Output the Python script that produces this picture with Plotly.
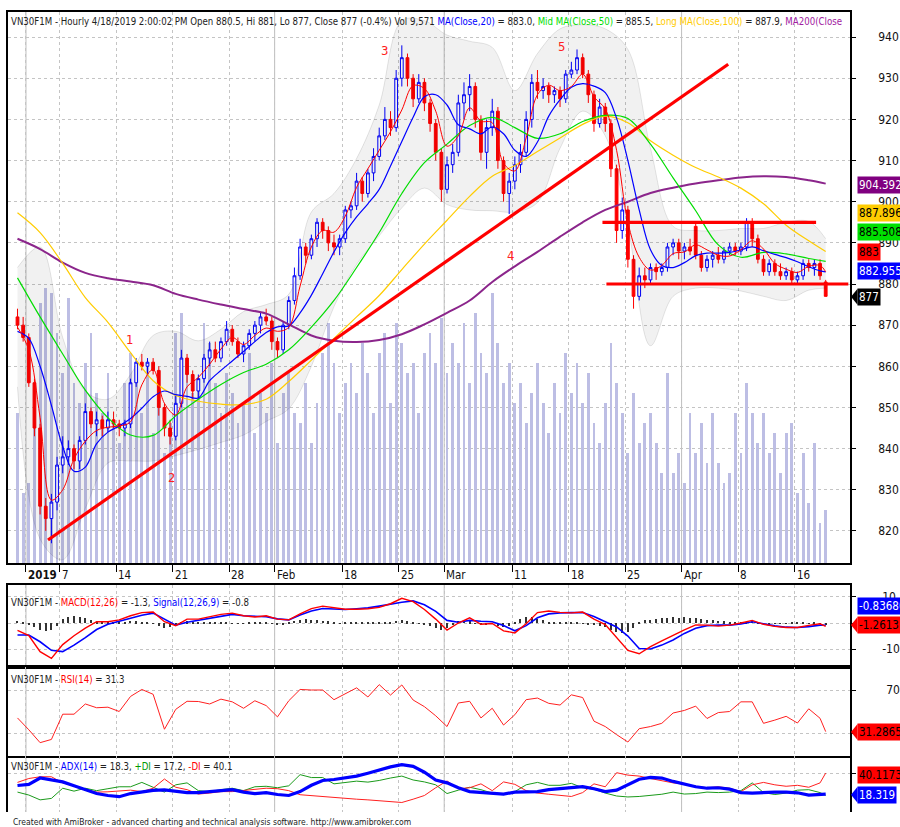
import plotly.graph_objects as go

# ---------------- DATA ----------------
# half-day candles, bar index 0..143 (Dec 31 2018 .. Apr 18 2019)
opens = [872, 870, 867, 856, 845, 826, 823, 827, 836, 838,
         840, 837, 842, 849, 846, 847, 845, 847, 846, 845,
         846, 856, 861, 860, 861, 859, 850, 845, 843, 851,
         862, 858, 854, 857, 862, 864, 862, 866, 869, 866,
         863, 865, 868, 870, 872, 871, 866, 864, 870, 876,
         882, 889, 887, 891, 895, 893, 890, 889, 891, 898,
         899, 905, 902, 907, 911, 916, 920, 918, 930, 935,
         930, 925, 929, 924, 919, 912, 903, 909, 912, 924,
         926, 928, 920, 912, 918, 922, 910, 902, 905, 909,
         912, 920, 929, 927, 928, 926, 927, 925, 931, 932,
         935, 931, 926, 919, 923, 919, 908, 893, 898, 886,
         877, 882, 881, 884, 883, 884, 889, 890, 888, 889,
         894, 887, 884, 886, 887, 886, 888, 889, 888, 889,
         895, 891, 886, 883, 885, 883, 882, 883, 881, 882,
         885, 884, 885, 880.5]
highs = [874, 872, 868, 857, 846, 828, 829, 838, 843, 842,
         841, 843, 851, 850, 849, 848, 849, 849, 847, 847,
         857, 862, 863, 862, 862, 860, 851, 847, 853, 864,
         863, 859, 858, 863, 866, 866, 867, 871, 870, 867,
         866, 869, 871, 873, 874, 872, 867, 871, 877, 884,
         891, 890, 892, 896, 896, 894, 892, 892, 899, 900,
         907, 906, 908, 913, 918, 923, 922, 932, 938, 936,
         931, 931, 930, 925, 920, 913, 911, 914, 926, 929,
         931, 929, 921, 920, 925, 923, 911, 907, 911, 914,
         922, 931, 932, 930, 929, 928, 928, 932, 934, 937,
         936, 932, 927, 925, 924, 920, 909, 901, 899, 887,
         884, 884, 885, 885, 885, 890, 891, 891, 890, 891,
         895, 888, 887, 888, 889, 889, 890, 890, 890, 896,
         896, 892, 887, 886, 886, 885, 884, 884, 883, 886,
         886, 886, 886, 881]
lows = [869, 866, 855, 843, 824, 820, 817, 825, 834, 836,
        835, 835, 841, 845, 843, 843, 844, 845, 843, 843,
        845, 855, 859, 858, 858, 848, 843, 841, 842, 850,
        856, 852, 852, 856, 860, 861, 861, 865, 865, 862,
        861, 864, 866, 868, 870, 864, 862, 863, 869, 875,
        881, 885, 886, 889, 891, 888, 887, 887, 890, 896,
        898, 900, 901, 905, 910, 915, 916, 917, 928, 928,
        923, 924, 922, 917, 910, 900, 902, 907, 911, 920,
        922, 918, 910, 908, 916, 908, 900, 897, 903, 907,
        911, 918, 925, 925, 924, 924, 923, 924, 930, 931,
        930, 924, 917, 918, 917, 906, 890, 891, 884, 874,
        876, 879, 880, 881, 882, 883, 887, 886, 886, 887,
        886, 883, 883, 884, 885, 885, 887, 887, 887, 888,
        889, 885, 882, 882, 882, 881, 881, 880, 880, 881,
        883, 882, 881, 877]
closes = [870, 867, 856, 845, 826, 823, 827, 836, 838, 840,
          837, 842, 849, 846, 847, 845, 847, 846, 845, 846,
          856, 861, 860, 861, 859, 850, 845, 843, 851, 862,
          858, 854, 857, 862, 864, 862, 866, 869, 866, 863,
          865, 868, 870, 872, 871, 866, 864, 870, 876, 882,
          889, 887, 891, 895, 893, 890, 889, 891, 898, 899,
          905, 902, 907, 911, 916, 920, 918, 930, 935, 930,
          925, 929, 924, 919, 912, 903, 909, 912, 924, 926,
          928, 920, 912, 918, 922, 910, 902, 905, 909, 912,
          920, 929, 927, 928, 926, 927, 925, 931, 932, 935,
          931, 926, 919, 923, 919, 908, 893, 898, 886, 877,
          882, 881, 884, 883, 884, 889, 890, 888, 889, 888,
          887, 884, 886, 887, 886, 888, 889, 888, 889, 895,
          891, 886, 883, 885, 883, 882, 883, 881, 882, 885,
          884, 885, 882, 877]
# volume, thousands of contracts
volume_k = [27.0, 12.6, 14.4, 27.9, 46.8, 49.5, 48.6, 41.4, 34.2, 47.7,
            32.4, 28.8, 36.0, 41.4, 30.6, 27.0, 34.2, 25.2, 21.6, 32.4,
            37.8, 34.2, 27.0, 36.0, 23.4, 28.8, 19.8, 25.2, 41.4, 45.0,
            36.0, 30.6, 32.4, 43.2, 39.6, 32.4, 27.0, 34.2, 30.6, 25.2,
            28.8, 37.8, 23.4, 30.6, 27.0, 36.0, 21.6, 30.6, 34.2, 27.0,
            25.2, 32.4, 21.6, 28.8, 37.8, 43.2, 36.0, 27.0, 32.4, 36.0,
            30.6, 39.6, 34.2, 27.0, 37.8, 41.4, 28.8, 43.2, 39.6, 34.2,
            36.0, 27.0, 37.8, 41.4, 36.0, 44.1, 34.2, 39.6, 36.0, 43.2,
            32.4, 45.0, 37.8, 34.2, 48.6, 39.6, 32.4, 36.0, 28.8, 32.4,
            25.2, 30.6, 36.0, 28.8, 23.4, 32.4, 27.0, 37.8, 30.6, 36.0,
            28.8, 34.2, 25.2, 21.6, 28.8, 39.6, 32.4, 27.0, 19.8, 30.6,
            21.6, 25.2, 27.0, 21.6, 16.2, 34.2, 16.2, 19.8, 14.4, 27.0,
            19.8, 25.2, 18.0, 27.0, 18.0, 14.4, 16.2, 27.0, 19.8, 32.4,
            27.0, 21.6, 27.0, 19.8, 23.4, 16.2, 23.4, 25.2, 12.6, 19.8,
            10.8, 21.6, 7.2, 9.571]

# sample positions (bar index) for indicator lines
idx2 = list(range(0, 144, 2)) + [143]
idx4 = list(range(0, 144, 4)) + [143]

ma_short = [869.5, 864.0, 847.5, 827.5, 830.0, 837.5, 841.8, 844.4, 845.2, 845.5,
            846.5, 855.5, 859.2, 851.0, 848.2, 855.0, 857.3, 860.5, 864.2, 867.0,
            865.3, 867.5, 869.3, 868.5, 869.5, 879.5, 889.0, 893.0, 892.6, 896.5,
            903.5, 908.0, 912.5, 917.0, 922.3, 928.2, 927.5, 922.0, 913.5, 916.0,
            922.8, 919.6, 919.2, 909.3, 907.5, 915.5, 926.0, 928.3, 927.0, 928.0,
            931.0, 925.5, 922.5, 912.5, 895.0, 886.5, 883.4, 884.5, 887.4, 887.8,
            889.5, 888.3, 887.0, 886.8, 888.3, 890.5, 888.5, 885.0, 883.6, 882.8,
            884.3, 884.5, 883.0]
ma20 = [868.5, 866.8, 860.0, 850.5, 840.5, 834.5, 835.5, 841.2, 844.0, 845.5,
        847.3, 849.8, 852.6, 854.0, 853.1, 852.7, 852.3, 856.5, 859.0, 861.3,
        863.6, 866.0, 868.2, 869.6, 869.8, 873.0, 877.3, 882.5, 887.8, 892.5,
        896.3, 899.5, 903.0, 908.7, 914.6, 920.5, 925.5, 926.0, 923.5, 918.7,
        917.7, 916.5, 918.2, 916.5, 912.5, 911.0, 914.5, 920.8, 924.8, 927.8,
        928.7, 928.1, 926.5, 920.3, 910.0, 898.0, 888.3, 884.5, 884.0, 885.2,
        886.9, 887.5, 887.5, 887.7, 888.3, 889.0, 888.1, 887.2, 886.4, 885.4,
        884.2, 883.2, 882.955]
ma50 = [881.5, 872.0, 863.0, 854.2, 847.5, 843.3, 843.2, 848.0, 852.0, 855.6,
        858.5, 860.5, 864.0, 869.5, 876.0, 884.0, 892.5, 902.0, 909.5, 914.0,
        918.5, 920.5, 918.0, 915.4, 916.5, 919.5, 921.0, 920.2, 914.0, 905.8,
        897.8, 889.5, 886.5, 887.7, 887.3, 886.2, 885.508]
ma100 = [897.3, 892.5, 885.0, 876.7, 870.7, 863.3, 856.5, 852.9, 851.5, 850.8,
         850.7, 852.0, 856.3, 861.5, 866.8, 872.0, 877.2, 883.5, 889.7, 895.5,
         901.3, 906.2, 908.8, 912.2, 915.5, 918.8, 920.8, 919.2, 914.8, 911.3,
         908.3, 906.0, 903.3, 899.5, 894.3, 890.5, 887.896]
ma200 = [891.0, 888.5, 885.2, 882.7, 881.4, 880.6, 879.7, 877.6, 876.2, 875.0,
         873.9, 872.8, 870.2, 867.5, 866.2, 865.9, 866.4, 867.8, 870.2, 873.0,
         876.0, 880.5, 884.3, 887.8, 891.5, 895.0, 898.0, 900.0, 902.1, 903.4,
         904.4, 905.2, 905.9, 906.2, 906.0, 905.2, 904.392]
bb_upper = [884, 889, 867, 854, 852, 858, 867.5, 868.5, 866.2, 869,
            873.3, 875, 877.5, 897.5, 902, 910.5, 923.5, 944, 944, 940.5,
            939, 937.5, 927, 936, 942, 943, 942, 937, 913, 894,
            893, 893, 893.5, 893.5, 895, 895.2, 891]
bb_lower = [855, 818, 813, 825.5, 836.5, 837, 837, 838.3, 839.8, 841.5,
            843.3, 846.6, 849.7, 860, 874.5, 884.8, 891.7, 898.5, 903.3, 899.3,
            898, 897.8, 897.5, 899.8, 913, 922, 916, 894, 865, 877,
            879, 879, 878.3, 877, 876, 878.5, 879]

macd = [-2.8, -4.8, -11.0, -13.6, -8.3, -4.9, -2.0, 0.5, 0.5, 1.2,
        2.8, 4.0, 4.2, 0.5, -1.0, 1.5, 1.5, 2.3, 3.3, 3.8,
        2.8, 2.3, 2.8, 1.5, 1.2, 3.5, 5.5, 6.5, 5.8, 5.3,
        5.3, 5.5, 6.0, 7.4, 9.5, 8.2, 5.2, 1.5, -2.7, 0.0,
        2.0, -0.5, -0.2, -3.0, -3.8, -0.3, 4.0, 4.6, 4.1, 3.9,
        4.2, 1.5, -0.6, -5.6, -10.5, -11.8, -9.1, -6.9, -4.6, -2.6,
        -0.7, -0.8, -1.2, -0.8, 0.0, 1.0, -0.5, -1.3, -1.7, -1.7,
        -0.9, -0.3, -1.26131]
signal = [-4.6, -4.6, -7.2, -10.5, -11.0, -8.5, -5.6, -2.5, -0.5, 0.7,
          1.8, 3.0, 3.8, 1.5, -0.8, 0.3, 1.1, 1.8, 2.5, 3.3,
          2.8, 2.5, 2.4, 1.6, 1.2, 3.1, 4.6, 5.6, 5.4, 5.2,
          5.5, 5.8, 6.5, 7.3, 8.0, 8.5, 7.0, 4.5, 1.0, 0.3,
          1.0, 0.7, 0.5, -1.0, -3.0, -1.0, 2.0, 3.5, 3.9, 4.0,
          4.0, 2.5, 0.5, -1.5, -5.0, -9.8, -10.0, -8.5, -6.5, -4.0,
          -2.0, -1.0, -0.8, -0.8, -0.4, 0.5, -0.3, -1.1, -1.6, -1.7,
          -1.4, -0.8, -0.836809]
macd_hist = [0.8, 0.5, -0.5, -1.5, -2.5, -3.2, -2.5, -1.0, 1.5, 2.5,
             2.8, 2.5, 2.0, 1.2, 0.6, 0.3, 0.5, 0.4, 0.6, 0.5,
             0.8, 0.6, 0.4, 0.2, -0.3, -1.2, -1.8, -1.5, -0.6, 0.5,
             0.6, 0.3, 0.2, 0.4, 0.3, 0.3, 0.2, 0.3, -0.2, -0.3,
             -0.2, 0.2, 0.3, 0.2, 0.1, -0.2, -0.5, -0.4, 0.2, 0.8,
             1.2, 1.5, 1.3, 1.0, 0.8, 0.6, 0.3, -0.2, 0.1, 0.2,
             0.3, 0.2, 0.3, 0.2, 0.4, 0.3, 0.5, 0.8, 1.0, 0.6,
             0.3, -0.3, -0.8, -1.2, -1.8, -2.5, -2.0, -0.5, 0.8, 1.0,
             0.6, -0.3, -0.8, -0.5, -0.2, -1.0, -1.5, -1.2, 0.5, 1.5,
             2.2, 2.5, 1.5, 1.0, 0.5, 0.2, 0.3, 0.4, 0.3, 0.2,
             -0.2, -0.4, -0.8, -1.2, -1.5, -2.5, -3.5, -4.0, -3.5, -2.0,
             0.5, 1.0, 1.3, 1.5, 1.8, 2.0, 2.2, 2.0, 2.3, 2.0,
             1.8, 1.5, 1.2, 1.0, 0.8, 0.6, 0.3, 0.2, 0.1, 0.5,
             0.8, 0.3, -0.2, -0.3, -0.2, -0.1, -0.2, 0.1, 0.2, 0.1,
             -0.1, 0.2, -0.2, -0.4]

rsi = [44, 33, 21, 24, 47.5, 47.5, 57, 53.5, 54, 50,
       64, 70.5, 66, 33.5, 52, 59.5, 59.3, 57, 61.5, 59,
       53, 60, 55.5, 45, 60, 70.5, 70, 70, 61, 66.5,
       72, 63.5, 75, 65.3, 74.7, 60.7, 54.5, 46, 36, 57.9,
       59.5, 44, 53, 37.4, 47, 61, 62.5, 57.6, 56, 65.5,
       63, 41, 36, 28.5, 21.6, 34, 36, 39, 48.6, 51,
       55, 43.5, 49, 50, 59, 59, 39, 42, 45.5, 39.3,
       52.5, 43.7, 31.2865]

adx = [27.3, 28.5, 35, 33, 31, 27, 23, 19, 17, 15.8,
       19, 21, 22.2, 22.8, 21.5, 20, 20, 21, 22.2, 23,
       20.5, 19, 20, 18, 17, 21, 27.5, 32.5, 33.5, 35,
       37, 40, 43.4, 46.5, 48.8, 47, 41, 33, 30, 25,
       21, 20, 19, 18.5, 20.5, 20.5, 21, 23, 24, 25.5,
       26.2, 24, 21, 22.5, 28, 33.7, 35.7, 35, 31.5, 28.5,
       26, 24.5, 25, 23.5, 20, 19.5, 20.3, 20.5, 20.5, 19.8,
       17.5, 18, 18.319]
plus_di = [20.5, 17.5, 12.5, 14, 24.5, 21.5, 24.5, 22, 24, 26,
           26, 30.5, 25.5, 20.5, 28, 30, 22, 21, 23, 24.5,
           22, 26, 26.5, 25, 27, 38.5, 35.5, 35.5, 29, 30.5,
           31.8, 30.8, 32.5, 35, 37, 33, 31, 28, 19, 22.5,
           25.5, 23, 19.5, 18, 21, 28, 30.5, 27.5, 27.5, 29.5,
           25, 23.5, 19.5, 16.5, 15.5, 16, 17.4, 18.3, 20.5, 18.5,
           19, 20.5, 20, 20.5, 22, 30, 20, 18, 19.5, 22.5,
           23, 20, 17.2]
minus_di = [30.5, 34.5, 36.3, 36.3, 30, 27, 23, 20.5, 20.8, 22,
            22.5, 21, 24.5, 34, 25.5, 23, 18.5, 19.5, 21, 21,
            22, 23.5, 24.5, 24, 22, 17.8, 16.8, 15.7, 14.8, 14,
            13.2, 12.5, 11.5, 10.5, 9.8, 13.2, 17, 25, 32, 24,
            25, 29, 22, 31, 28.5, 22, 19.5, 18.3, 17, 16,
            20, 29, 26, 40.5, 38, 37, 34.5, 32, 30, 28.8,
            26.5, 25, 26, 24.5, 21, 28, 30.5, 28, 26.5, 27.5,
            25.5, 30, 40.1173]

# hand-drawn trend lines (bar index, price)
trend_x = [5.4, 125.75]
trend_y = [817.8, 933.4]
resist_x = [103.5, 141.3]
resist_y = [895.0, 895.0]
support_x = [104.2, 147.0]
support_y = [880.0, 880.0]

wave_labels = ["1", "2", "3", "4", "5"]
wave_x = [19.9, 27.3, 65.0, 87.3, 96.2]
wave_y = [866.4, 833.1, 936.8, 887.0, 937.6]

tick_labels = ["2019", "7", "14", "21", "28", "Feb", "18", "25", "Mar", "11", "18", "25", "Apr", "8", "16"]
tick_pos = [1.5, 7.5, 17.5, 27.5, 37.5, 45.5, 57.5, 67.5, 75.5, 87.5, 97.5, 107.5, 117.5, 127.5, 137.5]
month_pos = [1.5, 45.5, 75.5, 117.5]

price_ticks = [820, 830, 840, 850, 860, 870, 880, 890, 900, 910, 920, 930, 940]
macd_ticks = [-10, 0, 10]
macd_ticktext = ["-10", "", "10"]
rsi_ticks = [30, 70]
rsi_ticktext = ["", "70"]
adx_ticks = [40]
adx_ticktext = [""]

# right-hand value tags: text, placement, axis, background, text colour, has pointer
tag_text = ["904.392", "887.896", "885.508", "883", "882.955", "877",
            "-0.836809", "-1.26131", "31.2865", "40.1173", "18.319"]
tag_y = [904.0, 897.3, 892.6, 887.8, 883.2, 876.9,
         6.5, -0.8, 30.9, 38.5, 17.8]
tag_axis = ["y2", "y2", "y2", "y2", "y2", "y2", "y3", "y3", "y4", "y5", "y5"]
tag_bg = ["#800080", "#ffcc00", "#00e000", "#ff0000", "#0000ff", "#000000",
          "#0000ff", "#ff0000", "#ff0000", "#ff0000", "#0000ff"]
tag_fg = ["white", "black", "black", "black", "white", "white",
          "white", "black", "black", "black", "white"]
tag_pointer = [False, False, False, False, False, True,
               False, True, True, False, True]

# ---------------- FIGURE ----------------
FONT = "Liberation Sans Narrow, DejaVu Sans Condensed, Arial Narrow, Liberation Sans, Arial, sans-serif"
bars = list(range(len(closes)))

dom_price = [0.31125, 1.0]
dom_macd = [0.18125, 0.28375]
dom_rsi = [0.07, 0.18125]
dom_adx = [0.0, 0.07]
PLOT_W = 842.0
PLOT_H = 800.0

fig = go.Figure()

# volume (base axis of the price panel)
fig.add_trace(go.Bar(x=bars, y=volume_k, xaxis="x", yaxis="y", width=0.5,
                     marker=dict(color="#bdbee4", line=dict(width=0))))

# bollinger band
fig.add_trace(go.Scatter(x=idx4, y=bb_upper, xaxis="x", yaxis="y2", mode="lines",
                         line=dict(color="rgba(0,0,0,0.10)", width=1, shape="spline")))
fig.add_trace(go.Scatter(x=idx4, y=bb_lower, xaxis="x", yaxis="y2", mode="lines",
                         fill="tonexty", fillcolor="rgba(0,0,0,0.055)",
                         line=dict(color="rgba(0,0,0,0.10)", width=1, shape="spline")))

# candles
fig.add_trace(go.Candlestick(x=bars, open=opens, high=highs, low=lows, close=closes,
                             xaxis="x", yaxis="y2", whiskerwidth=0,
                             increasing=dict(line=dict(color="#0000ff", width=1), fillcolor="#ffffff"),
                             decreasing=dict(line=dict(color="#ff0000", width=1), fillcolor="#ff0000")))

# moving averages
fig.add_trace(go.Scatter(x=idx4, y=ma200, xaxis="x", yaxis="y2", mode="lines",
                         line=dict(color="#8b258b", width=2, shape="spline")))
fig.add_trace(go.Scatter(x=idx4, y=ma100, xaxis="x", yaxis="y2", mode="lines",
                         line=dict(color="#ffcc00", width=1.2, shape="spline")))
fig.add_trace(go.Scatter(x=idx4, y=ma50, xaxis="x", yaxis="y2", mode="lines",
                         line=dict(color="#00dd00", width=1.2, shape="spline")))
fig.add_trace(go.Scatter(x=idx2, y=ma20, xaxis="x", yaxis="y2", mode="lines",
                         line=dict(color="#0000ff", width=1.2, shape="spline")))
fig.add_trace(go.Scatter(x=idx2, y=ma_short, xaxis="x", yaxis="y2", mode="lines",
                         line=dict(color="#ff0000", width=1, shape="spline")))

# trend lines
for tx, ty in [(trend_x, trend_y), (resist_x, resist_y), (support_x, support_y)]:
    fig.add_trace(go.Scatter(x=tx, y=ty, xaxis="x", yaxis="y2", mode="lines",
                             line=dict(color="#ff0000", width=3.2)))

# MACD panel
fig.add_trace(go.Bar(x=bars, y=macd_hist, xaxis="x2", yaxis="y3", width=0.22,
                     marker=dict(color="#333333", line=dict(width=0))))
fig.add_trace(go.Scatter(x=idx2, y=signal, xaxis="x2", yaxis="y3", mode="lines",
                         line=dict(color="#0000ff", width=1.6)))
fig.add_trace(go.Scatter(x=idx2, y=macd, xaxis="x2", yaxis="y3", mode="lines",
                         line=dict(color="#ff0000", width=1.4)))

# RSI panel
fig.add_trace(go.Scatter(x=idx2, y=rsi, xaxis="x3", yaxis="y4", mode="lines",
                         line=dict(color="#ff2020", width=1)))

# ADX panel
fig.add_trace(go.Scatter(x=idx2, y=plus_di, xaxis="x4", yaxis="y5", mode="lines",
                         line=dict(color="#1a9a1a", width=1)))
fig.add_trace(go.Scatter(x=idx2, y=minus_di, xaxis="x4", yaxis="y5", mode="lines",
                         line=dict(color="#ff2020", width=1)))
fig.add_trace(go.Scatter(x=idx2, y=adx, xaxis="x4", yaxis="y5", mode="lines",
                         line=dict(color="#0000ff", width=3.2)))

XR = [-1.68, 147.3]
grid = dict(showgrid=True, gridcolor="#c4c4c4", griddash="dot", gridwidth=1)
frame = dict(showline=True, linecolor="#000000", linewidth=1.5, mirror=True)
tfont = dict(family=FONT, size=12, color="#111111")

xcommon = dict(range=XR, tickmode="array", tickvals=tick_pos, showticklabels=False,
               zeroline=False, automargin=False, **grid)
ycommon = dict(side="right", ticks="outside", ticklen=4, tickcolor="#000000",
               tickfont=tfont, zeroline=False, automargin=False, tickmode="array", **grid)

y_ranges = {"y2": [812.2, 946.1], "y3": [-16.9, 14.6], "y4": [8.6, 91.4], "y5": [0, 57.7]}
y_domains = {"y2": dom_price, "y3": dom_macd, "y4": dom_rsi, "y5": dom_adx}

layout = dict(
    width=900, height=827,
    margin=dict(l=8, r=50, t=12, b=15, autoexpand=False),
    paper_bgcolor="white", plot_bgcolor="white",
    showlegend=False, bargap=0,
    font=dict(family=FONT, size=12, color="#111111"),
    xaxis=dict(domain=[0, 1], anchor="y", ticks="outside", ticklen=7, tickcolor="#000000",
               rangeslider=dict(visible=False), **xcommon, **frame),
    yaxis=dict(domain=dom_price, range=[0, 99.2], visible=False, fixedrange=True, automargin=False),
    yaxis2=dict(overlaying="y", anchor="x", range=y_ranges["y2"], tickvals=price_ticks,
                ticklabelstandoff=20, **ycommon, **frame),
    xaxis2=dict(domain=[0, 1], anchor="y3", matches="x", ticks="", **xcommon, **frame),
    yaxis3=dict(domain=dom_macd, anchor="x2", range=y_ranges["y3"], tickvals=macd_ticks,
                ticktext=macd_ticktext, ticklabelstandoff=24, **ycommon, **frame),
    xaxis3=dict(domain=[0, 1], anchor="y4", matches="x", ticks="", **xcommon, **frame),
    yaxis4=dict(domain=dom_rsi, anchor="x3", range=y_ranges["y4"], tickvals=rsi_ticks,
                ticktext=rsi_ticktext, ticklabelstandoff=28, **ycommon, **frame),
    xaxis4=dict(domain=[0, 1], anchor="y5", matches="x", ticks="", showline=False, **xcommon),
    yaxis5=dict(domain=dom_adx, anchor="x4", range=y_ranges["y5"], tickvals=adx_ticks,
                ticktext=adx_ticktext, ticklabelstandoff=24, showline=True,
                linecolor="#000000", linewidth=1.5, mirror=True, **ycommon),
)
fig.update_layout(**layout)

# solid month separators in every panel
shapes = []
for mp in month_pos:
    for dom in [dom_price, dom_macd, dom_rsi, dom_adx]:
        shapes.append(dict(type="line", xref="x", yref="paper", x0=mp, x1=mp,
                           y0=dom[0], y1=dom[1], layer="below",
                           line=dict(color="#bdbdbd", width=1)))

# small left-pointing arrows of the value tags
for t, yv, ax, bg, ptr in zip(tag_text, tag_y, tag_axis, tag_bg, tag_pointer):
    if not ptr:
        continue
    r = y_ranges[ax]
    d = y_domains[ax]
    units_per_px = (r[1] - r[0]) / ((d[1] - d[0]) * PLOT_H)
    dy = 8 * units_per_px
    xt = 1 + 1 / PLOT_W
    xb = 1 + 7.5 / PLOT_W
    shapes.append(dict(type="path", xref="paper", yref=ax, layer="above",
                       path="M %f,%f L %f,%f L %f,%f Z" % (xt, yv, xb, yv + dy, xb, yv - dy),
                       fillcolor=bg, line=dict(width=0)))
fig.update_layout(shapes=shapes)

ann = []
# date labels in the strip under the price panel
for lab, pos in zip(tick_labels, tick_pos):
    txt = "<b>%s</b>" % lab if lab == "2019" else lab
    ann.append(dict(x=pos, y=(812 - 575) / 800, xref="x", yref="paper", text=txt,
                    showarrow=False, xanchor="left", yanchor="middle", xshift=0,
                    font=dict(family=FONT, size=11.5, color="#111111")))

# wave labels
for lab, wx, wy in zip(wave_labels, wave_x, wave_y):
    ann.append(dict(x=wx, y=wy, xref="x", yref="y2", text=lab, showarrow=False,
                    font=dict(family=FONT, size=13, color="#ff2020")))

# titles
title_main = ("VN30F1M - Hourly 4/18/2019 2:00:02 PM Open 880.5, Hi 881, Lo 877, Close 877 (-0.4%) Vol 9,571 "
              "<span style='color:#0000ff'>MA(Close,20)</span> = 883.0, "
              "<span style='color:#00dd00'>Mid MA(Close,50)</span> = 885.5, "
              "<span style='color:#ffcc00'>Long MA(Close,100)</span> = 887.9, "
              "<span style='color:#a020a0'>MA200(Close</span>")
titles = [
    (title_main, (812 - 22) / 800),
    ("VN30F1M - <span style='color:#ff0000'>MACD(12,26)</span> = -1.3, "
     "<span style='color:#0000ff'>Signal(12,26,9)</span> = -0.8", (812 - 602) / 800),
    ("VN30F1M - <span style='color:#ff0000'>RSI(14)</span> = 31.3", (812 - 679) / 800),
    ("VN30F1M - <span style='color:#0000ff'>ADX(14)</span> = 18.3, "
     "<span style='color:#009900'>+DI</span> = 17.2, "
     "<span style='color:#ff0000'>-DI</span> = 40.1", (812 - 766) / 800),
]
for txt, ty in titles:
    ann.append(dict(x=0, y=ty, xref="paper", yref="paper", text=txt, showarrow=False,
                    xanchor="left", yanchor="middle", xshift=1,
                    font=dict(family=FONT, size=9.6, color="#222222")))

ann.append(dict(x=0, y=(812 - 822) / 800, xref="paper", yref="paper",
                text="Created with AmiBroker - advanced charting and technical analysis software. http://www.amibroker.com",
                showarrow=False, xanchor="left", yanchor="middle", xshift=3,
                font=dict(family=FONT, size=8.5, color="#222222")))

# value tags on the right
for t, yv, ax, bg, fg in zip(tag_text, tag_y, tag_axis, tag_bg, tag_fg):
    ann.append(dict(x=1, y=yv, xref="paper", yref=ax, text=t, showarrow=False,
                    xanchor="left", yanchor="middle", xshift=7, bgcolor=bg,
                    borderpad=1, font=dict(family=FONT, size=11.5, color=fg)))

fig.update_layout(annotations=ann)

fig.write_html("out.html", config={"displayModeBar": False},
               post_script="document.body.style.margin='0';document.body.style.overflow='hidden';")
